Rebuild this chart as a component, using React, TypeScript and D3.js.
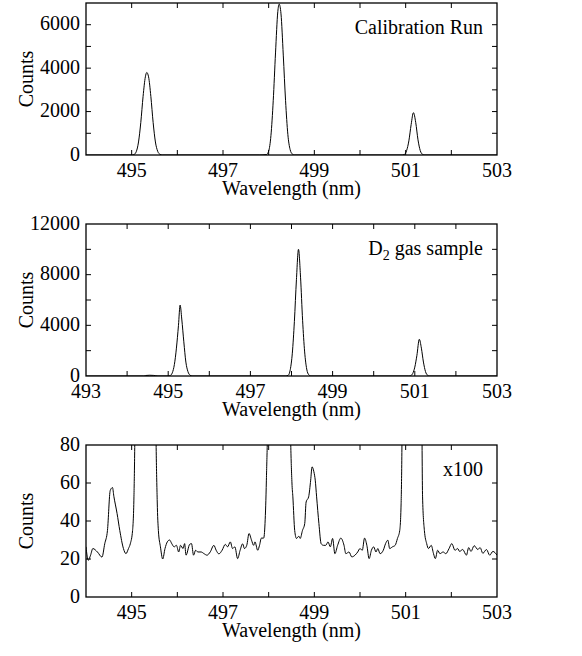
import React from 'react';
import * as d3 from 'd3';

// spectra: [wavelength (nm), counts]
const calibrationRun: [number, number][] = [
  [494.0, 0], [494.6, 0], [495.0, 0], [495.05, 20], [495.1, 150], [495.15, 600],
  [495.2, 1500], [495.25, 2700], [495.3, 3600], [495.33, 3800], [495.37, 3600],
  [495.42, 2700], [495.47, 1500], [495.52, 600], [495.57, 170], [495.62, 30],
  [495.67, 0], [497.8, 0], [497.95, 20], [498.0, 180], [498.05, 900], [498.1, 2500],
  [498.15, 4700], [498.2, 6600], [498.23, 6950], [498.27, 6500], [498.32, 4600],
  [498.37, 2500], [498.42, 950], [498.47, 250], [498.52, 40], [498.57, 0],
  [500.9, 0], [500.97, 20], [501.02, 200], [501.07, 650], [501.12, 1400],
  [501.17, 1950], [501.22, 1500], [501.27, 700], [501.32, 200], [501.37, 30],
  [501.42, 0], [503.0, 0],
];

const d2Sample: [number, number][] = [
  [493.0, 0], [494.4, 0], [494.45, 40], [494.55, 60], [494.65, 45], [494.75, 0],
  [495.0, 0], [495.05, 40], [495.1, 250], [495.15, 900], [495.2, 2200],
  [495.25, 4000], [495.29, 5600], [495.33, 4500], [495.38, 2700], [495.43, 1100],
  [495.48, 350], [495.53, 70], [495.58, 0], [497.85, 0], [497.92, 60],
  [497.97, 500], [498.02, 1800], [498.07, 4300], [498.12, 7600], [498.17, 10000],
  [498.22, 7800], [498.27, 4400], [498.32, 1900], [498.37, 550], [498.42, 100],
  [498.47, 0], [500.85, 0], [500.9, 30], [500.95, 200], [501.0, 700], [501.05, 1600],
  [501.11, 2900], [501.16, 2200], [501.21, 1100], [501.26, 350], [501.31, 60],
  [501.36, 0], [503.0, 0],
];

const d2Zoomed: [number, number][] = [
  [494.0, 26.4], [494.05, 19.3], [494.1, 22], [494.15, 25.5], [494.25, 23.7],
  [494.35, 21], [494.41, 28], [494.47, 35], [494.53, 56], [494.58, 57.6],
  [494.61, 53], [494.68, 44], [494.74, 35], [494.82, 25.5], [494.875, 22.8],
  [494.93, 25.5], [494.97, 28], [495.02, 35], [495.05, 52.7], [495.08, 120],
  [495.12, 400], [495.3, 5600], [495.48, 400], [495.52, 120], [495.56, 50],
  [495.585, 35], [495.63, 26.4], [495.68, 20], [495.73, 25.5], [495.78, 29],
  [495.83, 30], [495.88, 28], [495.93, 26.4], [495.98, 27.2], [496.03, 23.7],
  [496.07, 27.2], [496.125, 25.5], [496.16, 28.1], [496.19, 22], [496.27, 27.7],
  [496.31, 28.1], [496.355, 22], [496.4, 24.6], [496.45, 23.7], [496.52, 23.7],
  [496.585, 22.8], [496.65, 22], [496.72, 23.7], [496.8, 27.2], [496.85, 24.6],
  [496.91, 22.7], [496.98, 24.6], [497.05, 27.7], [497.1, 26.4], [497.16, 29],
  [497.21, 25.5], [497.26, 26.4], [497.32, 20.2], [497.375, 24.6], [497.43, 28],
  [497.47, 25.5], [497.52, 27.2], [497.57, 33.4], [497.625, 29.9], [497.67, 27.2],
  [497.7, 29], [497.76, 24.6], [497.8, 27.2], [497.84, 31], [497.89, 31],
  [497.92, 38.6], [497.95, 61.5], [497.99, 120], [498.03, 400], [498.2, 10000],
  [498.4, 400], [498.46, 120], [498.51, 60], [498.53, 52.7], [498.57, 35],
  [498.61, 30.8], [498.66, 32], [498.69, 30.8], [498.74, 35], [498.79, 38.7],
  [498.82, 50], [498.875, 52.7], [498.92, 61.5], [498.95, 68.5], [498.99, 65.9],
  [499.02, 61.5], [499.05, 52.7], [499.1, 38.7], [499.15, 28], [499.2, 27.2],
  [499.25, 27.2], [499.3, 29], [499.35, 26.4], [499.4, 30.8], [499.45, 22.8],
  [499.51, 27.2], [499.58, 31], [499.65, 27.2], [499.69, 22.8], [499.76, 23.7],
  [499.82, 21.1], [499.89, 22], [499.95, 23.7], [500.0, 25.5], [500.05, 24.6],
  [500.1, 31], [500.15, 27.2], [500.2, 20.2], [500.25, 24.6], [500.3, 26.4],
  [500.35, 23.7], [500.39, 25.5], [500.44, 22.8], [500.51, 24.6], [500.56, 28.1],
  [500.61, 29.9], [500.65, 25.5], [500.71, 26.4], [500.77, 27.2], [500.82, 30.8],
  [500.87, 35], [500.9, 49], [500.93, 120], [500.97, 400], [501.14, 2900],
  [501.31, 400], [501.35, 120], [501.37, 52.7], [501.41, 35], [501.46, 28.1],
  [501.5, 25.5], [501.56, 27.2], [501.61, 22.8], [501.65, 20.2], [501.7, 24.6],
  [501.75, 22.8], [501.82, 23.7], [501.88, 22.8], [501.95, 25.5], [502.01, 28.1],
  [502.08, 24.6], [502.14, 25.5], [502.18, 24], [502.25, 25], [502.33, 22],
  [502.38, 26], [502.43, 24], [502.5, 27], [502.58, 25], [502.63, 26],
  [502.69, 23], [502.77, 25], [502.84, 22], [502.91, 24], [503.0, 22],
];

const panelLabels = ['Calibration Run', 'D2 gas sample', 'x100'];
const xLabelTicksA = [495, 497, 499, 501, 503];
const xLabelTicksB = [493, 495, 497, 499, 501, 503];
const yLabelTicks = [
  [0, 2000, 4000, 6000],
  [0, 4000, 8000, 12000],
  [0, 20, 40, 60, 80],
];

const FONT = "'Liberation Serif', 'DejaVu Serif', serif";
const txt = { fontFamily: FONT, fontSize: 20, fill: '#000' };
const LEFT = 86;
const RIGHT = 497;
const PH = 152;

type PanelProps = {
  id: string;
  top: number;
  data: [number, number][];
  xDomain: [number, number];
  xLabels: number[];
  yDomain: [number, number];
  yStep: number;
  yLabels: number[];
  label: React.ReactNode;
};

function Panel({ id, top, data, xDomain, xLabels, yDomain, yStep, yLabels, label }: PanelProps) {
  const x = d3.scaleLinear().domain(xDomain).range([LEFT, RIGHT]);
  const y = d3.scaleLinear().domain(yDomain).range([top + PH, top]);
  const line = d3.line<[number, number]>()
    .x((d) => x(d[0]))
    .y((d) => y(d[1]))
    .curve(d3.curveMonotoneX);
  const xTicks = d3.range(xDomain[0] + 1, xDomain[1], 1);
  const yTicks = d3.range(yDomain[0] + yStep, yDomain[1] - 1e-9, yStep);
  const tl = 5;
  const bottom = top + PH;

  return (
    <g>
      <defs>
        <clipPath id={id}>
          <rect x={LEFT} y={top} width={RIGHT - LEFT} height={PH} />
        </clipPath>
      </defs>
      <path d={line(data) || ''} fill="none" stroke="#000" strokeWidth={1} clipPath={`url(#${id})`} />
      {xTicks.map((t) => (
        <g key={'x' + t}>
          <line x1={x(t)} x2={x(t)} y1={bottom} y2={bottom - tl} stroke="#000" />
          <line x1={x(t)} x2={x(t)} y1={top} y2={top + tl} stroke="#000" />
        </g>
      ))}
      {yTicks.map((t) => (
        <g key={'y' + t}>
          <line x1={LEFT} x2={LEFT + tl} y1={y(t)} y2={y(t)} stroke="#000" />
          <line x1={RIGHT} x2={RIGHT - tl} y1={y(t)} y2={y(t)} stroke="#000" />
        </g>
      ))}
      <rect x={LEFT} y={top} width={RIGHT - LEFT} height={PH} fill="none" stroke="#000" strokeWidth={1.3} />
      {xLabels.map((t) => (
        <text key={'xl' + t} x={x(t)} y={bottom + 22} textAnchor="middle" style={txt}>{t}</text>
      ))}
      {yLabels.map((t) => (
        <text key={'yl' + t} x={LEFT - 6} y={y(t)} dy="0.28em" textAnchor="end" style={txt}>{t}</text>
      ))}
      <text x={(LEFT + RIGHT) / 2} y={bottom + 40} textAnchor="middle" style={txt}>Wavelength (nm)</text>
      <text transform={`translate(33,${top + PH / 2}) rotate(-90)`} textAnchor="middle" style={txt}>Counts</text>
      <text x={483} y={top + 31} textAnchor="end" style={txt}>{label}</text>
    </g>
  );
}

export default function App() {
  return (
    <svg width={582} height={656} style={{ position: 'absolute', left: 0, top: 0, background: '#fff' }}>
      <Panel id="c1" top={3} data={calibrationRun} xDomain={[494, 503]} xLabels={xLabelTicksA}
        yDomain={[0, 7000]} yStep={1000} yLabels={yLabelTicks[0]} label={panelLabels[0]} />
      <Panel id="c2" top={224} data={d2Sample} xDomain={[493, 503]} xLabels={xLabelTicksB}
        yDomain={[0, 12000]} yStep={2000} yLabels={yLabelTicks[1]}
        label={<><tspan>D</tspan><tspan dy={5} style={{ fontSize: 14 }}>2</tspan><tspan dy={-5}>{' gas sample'}</tspan></>} />
      <Panel id="c3" top={445} data={d2Zoomed} xDomain={[494, 503]} xLabels={xLabelTicksA}
        yDomain={[0, 80]} yStep={20} yLabels={yLabelTicks[2]} label={panelLabels[2]} />
    </svg>
  );
}
